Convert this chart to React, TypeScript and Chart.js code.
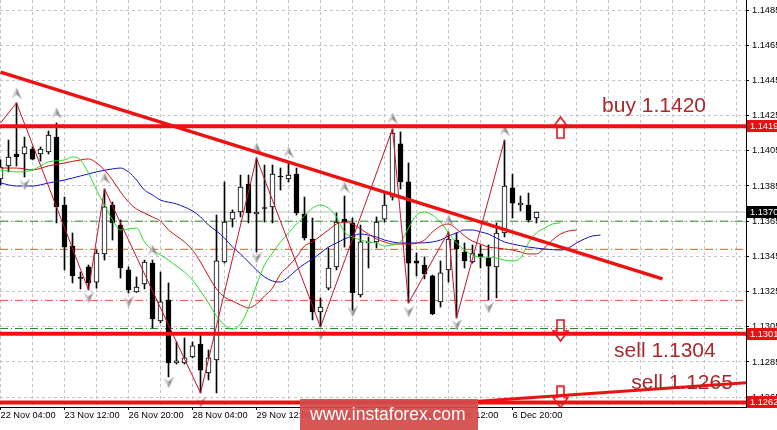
import React, { useEffect, useRef } from 'react';
import { Chart, registerables } from 'chart.js';

Chart.register(...registerables);

// ---- Candles (EURUSD H4), index 0 = 22 Nov 04:00 ----
const opens = [
  1.1389, 1.13964, 1.14032, 1.14032, 1.1406, 1.14032, 1.14043, 1.14128, 1.13742, 1.13509,
  1.1333, 1.1339, 1.13304, 1.13464, 1.13742, 1.13628, 1.13373, 1.13248, 1.13293, 1.13412,
  1.13083, 1.13202, 1.12844, 1.12844, 1.12878, 1.12952, 1.12787, 1.12861, 1.13418, 1.13662,
  1.13702, 1.13861, 1.13691, 1.13725, 1.13731, 1.13907, 1.1389, 1.13918, 1.13691, 1.13549,
  1.13134, 1.1327, 1.1339, 1.13662, 1.1364, 1.13231, 1.13526, 1.13532, 1.13662, 1.13787,
  1.14089, 1.13873, 1.13424, 1.13401, 1.13339, 1.13191, 1.13373, 1.13543, 1.13475, 1.13418,
  1.13464, 1.13441, 1.1339, 1.13583, 1.13839, 1.13742, 1.13742, 1.13668,
];
const highs = [
  1.13998, 1.14111, 1.14322, 1.14128, 1.14072, 1.14072, 1.14162, 1.14208, 1.13787, 1.13583,
  1.13361, 1.13401, 1.13486, 1.13833, 1.13759, 1.13657, 1.1339, 1.13333, 1.13429, 1.13429,
  1.13361, 1.13299, 1.12964, 1.12986, 1.12964, 1.13003, 1.12918, 1.13685, 1.13873, 1.13714,
  1.13912, 1.13912, 1.14009, 1.13969, 1.13969, 1.13952, 1.13986, 1.13952, 1.13787, 1.13668,
  1.13214, 1.13498, 1.13697, 1.13793, 1.13668, 1.13628, 1.1356, 1.13674, 1.1381, 1.14174,
  1.14157, 1.13981, 1.13469, 1.13447, 1.13344, 1.13424, 1.13589, 1.13583, 1.13526, 1.13515,
  1.13515, 1.13515, 1.1364, 1.14111, 1.13918, 1.13793, 1.1381, 1.13702,
];
const lows = [
  1.13856, 1.1393, 1.13964, 1.13901, 1.13998, 1.13992, 1.14032, 1.1364, 1.13373, 1.13299,
  1.13265, 1.13259, 1.1327, 1.13429, 1.13543, 1.13327, 1.13242, 1.13245, 1.13265, 1.13043,
  1.13072, 1.12765, 1.12838, 1.12838, 1.12873, 1.12674, 1.12748, 1.12674, 1.13412, 1.13617,
  1.13674, 1.1364, 1.13475, 1.13645, 1.1364, 1.13827, 1.13873, 1.13685, 1.13543, 1.13089,
  1.13049, 1.13259, 1.13373, 1.13503, 1.13124, 1.13219, 1.13384, 1.13498, 1.13645, 1.1377,
  1.13833, 1.13185, 1.13339, 1.13322, 1.13118, 1.13162, 1.13304, 1.131, 1.13384, 1.13412,
  1.13384, 1.13202, 1.13214, 1.1356, 1.13668, 1.13708, 1.13645, 1.1364,
];
const closes = [
  1.13958, 1.14015, 1.14015, 1.14072, 1.14003, 1.1406, 1.1414, 1.13731, 1.13503, 1.13339,
  1.13325, 1.13299, 1.13469, 1.13731, 1.1364, 1.13384, 1.13259, 1.13276, 1.13418, 1.13094,
  1.13191, 1.12844, 1.12856, 1.12873, 1.12941, 1.12804, 1.12873, 1.13424, 1.13645, 1.13702,
  1.13844, 1.13697, 1.13702, 1.13722, 1.13918, 1.13901, 1.13912, 1.13697, 1.13555, 1.13134,
  1.13162, 1.13384, 1.13645, 1.13645, 1.13242, 1.13532, 1.13529, 1.13645, 1.13742, 1.14151,
  1.13873, 1.13412, 1.13412, 1.1335, 1.13124, 1.13356, 1.13549, 1.13492, 1.13424, 1.13469,
  1.13447, 1.13395, 1.13583, 1.1385, 1.13753, 1.13753, 1.13657, 1.13702,
];

// ---- X axis labels (bar index -> label) ----
const xTickIndex = [0, 8, 16, 24, 32, 40, 48, 56, 64];
const xTickLabels = [
  '22 Nov 04:00', '23 Nov 12:00', '26 Nov 20:00', '28 Nov 04:00', '29 Nov 12:00',
  '30 Nov 20:00', '4 Dec 04:00', '5 Dec 12:00', '6 Dec 20:00',
];
const yTicks = [1.1265, 1.1285, 1.1305, 1.1325, 1.1345, 1.1365, 1.1385, 1.1405, 1.1425, 1.1445, 1.1465, 1.1485];

// ---- Alligator ----
const lipsIdx = [0, 2, 4, 6, 8, 9, 10, 11, 12, 13, 14, 15, 16, 17, 18, 19, 20, 21, 22, 23, 24, 25, 26, 27, 28, 29, 30, 31, 32, 33, 34, 35, 36, 37, 38, 39, 40, 41, 42, 43, 44, 45, 46, 47, 48, 49, 50, 51, 52, 53, 54, 55, 56, 57, 58, 59, 60, 61, 62, 63, 64, 65, 66, 67, 68, 69, 70];
const lipsVal = [1.13941, 1.1393, 1.13941, 1.13987, 1.13998, 1.14015, 1.13998, 1.13924, 1.13827, 1.13742, 1.13657, 1.136, 1.13606, 1.13611, 1.13532, 1.13486, 1.13458, 1.13429, 1.13395, 1.13361, 1.13316, 1.13253, 1.13185, 1.13111, 1.1306, 1.13037, 1.13066, 1.13157, 1.13287, 1.13401, 1.13469, 1.13532, 1.13583, 1.13634, 1.13679, 1.13724, 1.13742, 1.13724, 1.13674, 1.13589, 1.1356, 1.13543, 1.13532, 1.13526, 1.13509, 1.13515, 1.13532, 1.13611, 1.13685, 1.13702, 1.13685, 1.13645, 1.13583, 1.13526, 1.13486, 1.13458, 1.13446, 1.13446, 1.13441, 1.13429, 1.13424, 1.13441, 1.13526, 1.13583, 1.13611, 1.13634, 1.1364];
const teethIdx = [0, 2, 4, 6, 8, 10, 11, 12, 13, 14, 15, 16, 17, 18, 19, 20, 21, 22, 23, 24, 25, 26, 27, 28, 29, 30, 31, 32, 33, 34, 35, 36, 37, 38, 39, 40, 41, 42, 43, 44, 45, 46, 47, 48, 49, 50, 51, 52, 53, 54, 55, 56, 57, 58, 59, 60, 61, 62, 63, 64, 65, 66, 67, 68, 69, 70, 71, 72];
const teethVal = [1.13952, 1.13952, 1.13941, 1.13964, 1.13981, 1.13998, 1.14004, 1.13981, 1.13941, 1.13884, 1.13816, 1.13759, 1.13719, 1.13696, 1.13674, 1.13651, 1.136, 1.13566, 1.13532, 1.13486, 1.13418, 1.13338, 1.13265, 1.13219, 1.13196, 1.13174, 1.13157, 1.13179, 1.13225, 1.1327, 1.1335, 1.13395, 1.13446, 1.13509, 1.13532, 1.13566, 1.136, 1.13634, 1.13645, 1.13634, 1.13606, 1.13577, 1.13549, 1.13532, 1.1352, 1.1352, 1.1352, 1.13526, 1.13543, 1.13589, 1.13622, 1.13634, 1.13606, 1.13566, 1.13537, 1.1352, 1.13503, 1.13498, 1.13492, 1.13486, 1.13475, 1.13464, 1.13464, 1.13498, 1.13543, 1.13577, 1.13594, 1.136];
const jawIdx = [0, 2, 4, 6, 8, 10, 12, 14, 15, 16, 17, 18, 19, 20, 22, 24, 25, 26, 27, 28, 29, 30, 31, 32, 33, 34, 35, 36, 37, 38, 39, 40, 41, 42, 43, 44, 45, 46, 47, 48, 49, 50, 52, 54, 55, 56, 57, 58, 59, 60, 61, 62, 63, 64, 66, 68, 70, 71, 72, 73, 74, 75];
const jawVal = [1.13867, 1.1385, 1.1385, 1.13867, 1.13884, 1.13907, 1.1393, 1.13947, 1.13952, 1.1393, 1.13884, 1.13827, 1.13799, 1.1377, 1.13748, 1.13708, 1.13674, 1.13628, 1.13594, 1.13554, 1.13503, 1.13464, 1.13418, 1.13373, 1.13333, 1.1331, 1.13304, 1.13333, 1.13373, 1.13407, 1.13435, 1.13469, 1.13503, 1.13526, 1.13549, 1.13566, 1.13577, 1.13571, 1.1356, 1.13543, 1.13532, 1.13526, 1.13526, 1.13532, 1.13543, 1.13566, 1.13583, 1.136, 1.136, 1.13589, 1.13577, 1.13554, 1.13532, 1.1352, 1.13503, 1.13492, 1.13486, 1.13498, 1.13526, 1.13549, 1.13566, 1.13571];

// ---- ZigZag ----
const zigIdx = [0, 2, 11, 13, 25, 32, 40, 49, 51, 56, 57, 63];
const zigVal = [1.14208, 1.14322, 1.13259, 1.13833, 1.12674, 1.14009, 1.13049, 1.14174, 1.13185, 1.13589, 1.131, 1.14111];

// ---- Fractals ----
const fracUpIdx = [2, 7, 13, 19, 32, 36, 43, 49, 56, 63];
const fracUpVal = [1.14378, 1.14265, 1.13895, 1.13486, 1.14066, 1.14043, 1.13844, 1.14236, 1.13657, 1.14168];
const fracDnIdx = [3, 11, 16, 21, 25, 32, 40, 44, 51, 57, 61];
const fracDnVal = [1.13856, 1.13214, 1.13191, 1.12731, 1.12617, 1.13441, 1.13003, 1.13134, 1.13134, 1.1306, 1.13157];

// ---- Levels & objects ----
const dashGreenLevels = [1.1365, 1.1304];
const dashOrangeLevels = [1.1349, 1.132];
const bidPrice = 1.13702;
const redLevels = [1.1419, 1.1301, 1.1262];
const trendDownIdx = [0, 82.75];
const trendDownVal = [1.14497, 1.13322];
const trendUpIdx = [58.4, 93.5];
const trendUpVal = [1.12623, 1.12733];
const arrowUpIdx = [70];
const arrowUpVal = [1.14182];
const arrowDnIdx = [70, 70];
const arrowDnVal = [1.13029, 1.12651];
const noteTexts = ['buy 1.1420', 'sell 1.1304', 'sell 1.1265'];
const noteIdx = [75.2, 76.7, 78.85];
const noteVal = [1.14301, 1.12913, 1.12728];
const tagPrices = [1.1419, 1.137, 1.1301, 1.1262];
const tagLabels = ['1.1419', '1.1370', '1.1301', '1.1262'];

const X_MIN = -0.0625;
const X_MAX = 93.1875;
const Y_MIN = 1.12594;
const Y_MAX = 1.14907;
const FONT = '"Liberation Sans", Arial, sans-serif';

const pts = (xs: number[], ys: number[]) => xs.map((x, i) => ({ x, y: ys[i] }));

function makeFractal(up: boolean) {
  const c = document.createElement('canvas');
  c.width = 10;
  c.height = 11;
  const g = c.getContext('2d')!;
  if (!up) {
    g.translate(0, 11);
    g.scale(1, -1);
  }
  g.beginPath();
  g.moveTo(5, 0);
  g.lineTo(5, 7);
  g.lineTo(0, 11);
  g.closePath();
  g.fillStyle = '#c4c4c4';
  g.fill();
  g.beginPath();
  g.moveTo(5, 0);
  g.lineTo(10, 11);
  g.lineTo(5, 7);
  g.closePath();
  g.fillStyle = '#8a8a8a';
  g.fill();
  return c;
}

function makeArrow(up: boolean) {
  const c = document.createElement('canvas');
  c.width = 17;
  c.height = 23;
  const g = c.getContext('2d')!;
  if (!up) {
    g.translate(0, 23);
    g.scale(1, -1);
  }
  g.beginPath();
  g.moveTo(8.5, 1);
  g.lineTo(16, 11);
  g.lineTo(12, 11);
  g.lineTo(12, 22);
  g.lineTo(5, 22);
  g.lineTo(5, 11);
  g.lineTo(1, 11);
  g.closePath();
  g.strokeStyle = '#e8141a';
  g.lineWidth = 1.6;
  g.stroke();
  return c;
}

const overlayPlugin = {
  id: 'overlay',
  afterDatasetsDraw(chart: any) {
    const { ctx, scales } = chart;
    const x = scales.x;
    const y = scales.y;
    ctx.save();
    ctx.font = `21px ${FONT}`;
    ctx.fillStyle = '#a8282d';
    ctx.textBaseline = 'middle';
    ctx.textAlign = 'left';
    noteTexts.forEach((t, i) => {
      ctx.fillText(t, x.getPixelForValue(noteIdx[i]), y.getPixelForValue(noteVal[i]));
    });
    ctx.restore();
  },
  afterDraw(chart: any) {
    const { ctx, scales, chartArea, width } = chart;
    const y = scales.y;
    ctx.save();
    tagPrices.forEach((p, i) => {
      const py = Math.round(y.getPixelForValue(p));
      ctx.fillStyle = i === 1 ? '#000000' : '#e81010';
      ctx.fillRect(chartArea.right + 1, py - 6, width - chartArea.right - 1, 12);
      ctx.fillStyle = '#ffffff';
      ctx.font = `9.25px ${FONT}`;
      ctx.textBaseline = 'middle';
      ctx.textAlign = 'left';
      ctx.fillText(tagLabels[i], chartArea.right + 4, py + 0.5);
    });
    // watermark
    ctx.fillStyle = 'rgba(212,74,74,0.93)';
    ctx.fillRect(300, 399, 178, 31);
    ctx.fillStyle = '#ffffff';
    ctx.font = `17.5px ${FONT}`;
    ctx.textBaseline = 'middle';
    ctx.textAlign = 'left';
    ctx.fillText('www.instaforex.com', 310, 415);
    ctx.restore();
  },
};

export default function App() {
  const ref = useRef<HTMLCanvasElement>(null);

  useEffect(() => {
    document.body.style.margin = '0';
    const canvas = ref.current;
    if (!canvas) return;

    const idx = opens.map((_, i) => i);
    const fracUp = makeFractal(true);
    const fracDn = makeFractal(false);
    const arrUp = makeArrow(true);
    const arrDn = makeArrow(false);

    const hLine = (price: number) => [
      { x: X_MIN, y: price },
      { x: X_MAX, y: price },
    ];

    const datasets: any[] = [];
    datasets.push({
      type: 'line',
      data: hLine(bidPrice),
      borderColor: '#c0c0c0',
      borderWidth: 1,
      pointRadius: 0,
      order: 100,
    });
    dashGreenLevels.forEach((p) =>
      datasets.push({
        type: 'line',
        data: hLine(p),
        borderColor: '#2a8a2a',
        borderWidth: 1,
        borderDash: [8, 3, 1, 3],
        pointRadius: 0,
        order: 95,
      })
    );
    dashOrangeLevels.forEach((p) =>
      datasets.push({
        type: 'line',
        data: hLine(p),
        borderColor: '#e8552a',
        borderWidth: 1,
        borderDash: [8, 3, 1, 3],
        pointRadius: 0,
        order: 95,
      })
    );
    datasets.push({
      type: 'bar',
      data: idx.map((i) => ({ x: i, y: [lows[i], highs[i]] })),
      backgroundColor: '#000000',
      borderWidth: 0,
      barThickness: 1,
      grouped: false,
      minBarLength: 1,
      order: 80,
    });
    datasets.push({
      type: 'bar',
      data: idx.map((i) => ({ x: i, y: [opens[i], closes[i]] })),
      backgroundColor: idx.map((i) => (closes[i] >= opens[i] ? '#ffffff' : '#000000')),
      borderColor: '#000000',
      borderWidth: 1,
      borderSkipped: false,
      barThickness: 5,
      grouped: false,
      minBarLength: 1,
      order: 79,
    });
    datasets.push({
      type: 'line',
      data: pts(jawIdx, jawVal),
      borderColor: '#1010c0',
      borderWidth: 1,
      pointRadius: 0,
      cubicInterpolationMode: 'monotone',
      order: 72,
    });
    datasets.push({
      type: 'line',
      data: pts(teethIdx, teethVal),
      borderColor: '#d01010',
      borderWidth: 1,
      pointRadius: 0,
      cubicInterpolationMode: 'monotone',
      order: 71,
    });
    datasets.push({
      type: 'line',
      data: pts(lipsIdx, lipsVal),
      borderColor: '#22dd22',
      borderWidth: 1,
      pointRadius: 0,
      cubicInterpolationMode: 'monotone',
      order: 70,
    });
    datasets.push({
      type: 'line',
      data: pts(zigIdx, zigVal),
      borderColor: '#c8102e',
      borderWidth: 1,
      pointRadius: 0,
      order: 60,
    });
    datasets.push({
      type: 'line',
      data: pts(fracUpIdx, fracUpVal),
      showLine: false,
      pointStyle: fracUp,
      pointRadius: 5,
      order: 50,
    });
    datasets.push({
      type: 'line',
      data: pts(fracDnIdx, fracDnVal),
      showLine: false,
      pointStyle: fracDn,
      pointRadius: 5,
      order: 50,
    });
    redLevels.forEach((p) =>
      datasets.push({
        type: 'line',
        data: hLine(p),
        borderColor: '#ee1111',
        borderWidth: 4,
        pointRadius: 0,
        order: 40,
      })
    );
    datasets.push({
      type: 'line',
      data: pts(trendDownIdx, trendDownVal),
      borderColor: '#ee1111',
      borderWidth: 3.5,
      pointRadius: 0,
      order: 40,
    });
    datasets.push({
      type: 'line',
      data: pts(trendUpIdx, trendUpVal),
      borderColor: '#ee1111',
      borderWidth: 3,
      pointRadius: 0,
      order: 40,
    });
    datasets.push({
      type: 'line',
      data: pts(arrowUpIdx, arrowUpVal),
      showLine: false,
      pointStyle: arrUp,
      pointRadius: 8,
      order: 30,
    });
    datasets.push({
      type: 'line',
      data: pts(arrowDnIdx, arrowDnVal),
      showLine: false,
      pointStyle: arrDn,
      pointRadius: 8,
      order: 30,
    });

    const gridIdx: number[] = [];
    for (let v = 0; v <= 92; v += 4) gridIdx.push(v);

    const chart = new Chart(canvas, {
      type: 'line',
      data: { datasets },
      plugins: [overlayPlugin],
      options: {
        animation: false,
        responsive: false,
        maintainAspectRatio: false,
        layout: { padding: 0, autoPadding: false },
        events: [],
        plugins: { legend: { display: false }, tooltip: { enabled: false } },
        scales: {
          x: {
            type: 'linear',
            min: X_MIN,
            max: X_MAX,
            offset: false,
            afterBuildTicks: (s: any) => {
              s.ticks = gridIdx.map((v) => ({ value: v }));
            },
            afterFit: (s: any) => {
              s.height = 23;
              s.paddingLeft = 0;
              s.paddingRight = 0;
            },
            ticks: {
              autoSkip: false,
              maxRotation: 0,
              minRotation: 0,
              align: 'start',
              padding: 0,
              color: '#000000',
              font: { family: FONT, size: 9.25 },
              callback: (v: any) => {
                const k = xTickIndex.indexOf(Number(v));
                return k >= 0 ? xTickLabels[k] : '';
              },
            },
            grid: {
              offset: false,
              color: '#c4c4c4',
              lineWidth: 1,
              tickLength: 3,
              tickColor: (c: any) =>
                c.tick && xTickIndex.indexOf(c.tick.value) >= 0 ? '#000000' : 'rgba(0,0,0,0)',
            },
            border: { display: true, color: '#000000', width: 1, dash: [3, 3] },
          },
          y: {
            type: 'linear',
            position: 'right',
            min: Y_MIN,
            max: Y_MAX,
            afterBuildTicks: (s: any) => {
              s.ticks = yTicks.map((v) => ({ value: v }));
            },
            afterFit: (s: any) => {
              s.width = 31;
              s.paddingTop = 0;
              s.paddingBottom = 0;
            },
            ticks: {
              padding: 3,
              color: '#000000',
              font: { family: FONT, size: 9.25 },
              callback: (v: any) => Number(v).toFixed(4),
            },
            grid: { color: '#c4c4c4', lineWidth: 1, tickLength: 3, tickColor: '#000000' },
            border: { display: true, color: '#000000', width: 1, dash: [3, 3] },
          },
        },
      } as any,
    } as any);

    return () => chart.destroy();
  }, []);

  return (
    <div style={{ position: 'absolute', left: 0, top: 0, width: 777, height: 430, background: '#ffffff' }}>
      <canvas ref={ref} width={777} height={430} style={{ display: 'block', width: 777, height: 430 }} />
    </div>
  );
}
